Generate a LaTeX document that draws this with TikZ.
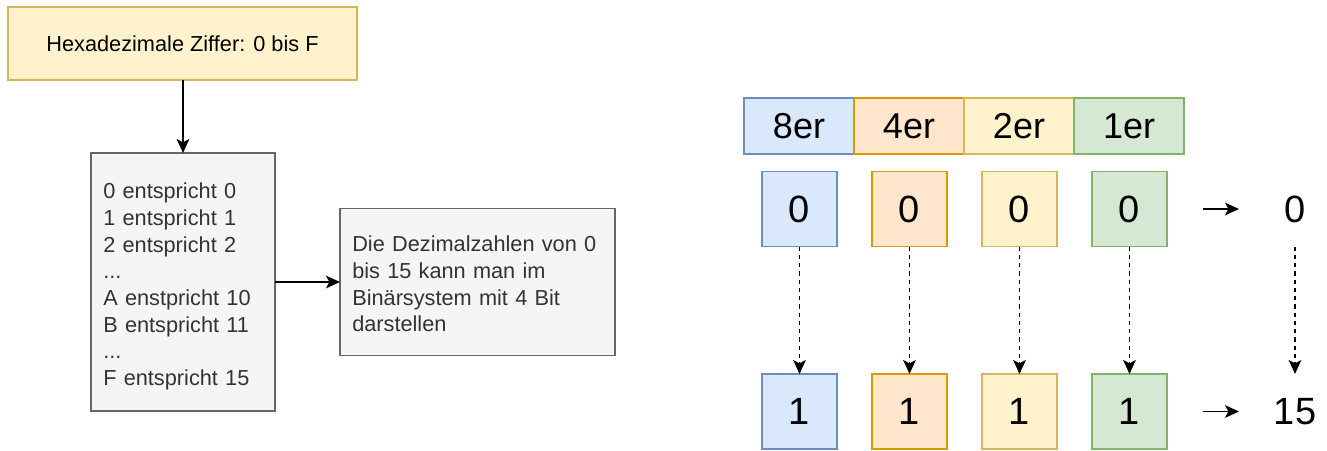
\documentclass[tikz,border=0pt]{standalone}
\usepackage{fontspec}
\setmainfont{Liberation Sans}
\usetikzlibrary{arrows.meta}
\definecolor{blueF}{HTML}{DAE8FC}\definecolor{blueS}{HTML}{6C8EBF}
\definecolor{oranF}{HTML}{FFE6CC}\definecolor{oranS}{HTML}{D79B00}
\definecolor{yellF}{HTML}{FFF2CC}\definecolor{yellS}{HTML}{D6B656}
\definecolor{greeF}{HTML}{D5E8D4}\definecolor{greeS}{HTML}{82B366}
\definecolor{grayF}{HTML}{F5F5F5}\definecolor{grayS}{HTML}{666666}
\definecolor{grayT}{HTML}{333333}
\tikzset{
  box/.style={draw, line width=1.1pt, inner sep=0pt, outer sep=0pt},
  txt/.style={font=\fontsize{16.3}{20}\selectfont},
  graybox/.style={box, fill=grayF, draw=grayS},
  graytxt/.style={text=grayT, txt, align=left, inner sep=0pt, anchor=west},
  hdr/.style={box, minimum width=82.5pt, minimum height=42pt, font=\fontsize{27}{30}\selectfont},
  sq/.style={box, minimum width=56.25pt, minimum height=56.25pt, font=\fontsize{28.5}{32}\selectfont},
  val/.style={inner sep=0pt, outer sep=0pt, minimum width=56.25pt, minimum height=56.25pt, font=\fontsize{28.5}{32}\selectfont},
  bl/.style={fill=blueF, draw=blueS}, or/.style={fill=oranF, draw=oranS},
  ye/.style={fill=yellF, draw=yellS}, gr/.style={fill=greeF, draw=greeS},
  arr/.style={-{Stealth[length=10.5pt,width=9.5pt,inset=2.5pt]}, line width=1.2pt},
  darr/.style={arr, dash pattern=on 3.2pt off 3pt},
}
\begin{document}
\begin{tikzpicture}[x=0.75pt,y=-0.75pt]
\useasboundingbox (0,0) rectangle (1327,450);
% left part
\node[box, fill=yellF, draw=yellS, txt, minimum width=261.75pt, minimum height=54.75pt] (hex) at (182.5,43.5) {Hexadezimale Ziffer: 0 bis F};
\node[graybox, minimum width=138pt, minimum height=193.5pt] (list) at (183,282) {};
\node[graytxt, text width=120pt] (listtxt) at (103,286.5)
  {0 entspricht 0\\1 entspricht 1\\2 entspricht 2\\...\\A enstpricht 10\\B entspricht 11\\...\\F entspricht 15};
\node[graybox, minimum width=206.25pt, minimum height=110.25pt] (desc) at (477.5,282) {};
\node[graytxt, text width=188pt] (desctxt) at (352,284)
  {Die Dezimalzahlen von 0\\bis 15 kann man im\\Binärsystem mit 4 Bit\\darstellen};
\draw[arr] (hex.south -| list.north) -- (list.north);
\draw[arr] (list.east) -- (desc.west);
% header
\node[hdr, bl] (h8) at (799,126) {8er};
\node[hdr, or] (h4) at (909,126) {4er};
\node[hdr, ye] (h2) at (1019,126) {2er};
\node[hdr, gr] (h1) at (1129,126) {1er};
% top row
\node[sq, bl] (t8) at (799.5,209) {0};
\node[sq, or] (t4) at (909.5,209) {0};
\node[sq, ye] (t2) at (1019.5,209) {0};
\node[sq, gr] (t1) at (1129.5,209) {0};
\node[val] (tv) at (1295,209) {0};
% bottom row
\node[sq, bl] (b8) at (799.5,411.5) {1};
\node[sq, or] (b4) at (909.5,411.5) {1};
\node[sq, ye] (b2) at (1019.5,411.5) {1};
\node[sq, gr] (b1) at (1129.5,411.5) {1};
\node[val] (bv) at (1295,411.5) {15};
% dashed arrows
\foreach \n in {8,4,2,1} \draw[darr] (t\n.south) -- (b\n.north);
\draw[darr] (tv.south) -- (bv.north);
% small arrows
\coordinate (ta) at (1203,209); \coordinate (tb) at (1239,209);
\coordinate (ba) at (1203,411.5); \coordinate (bb) at (1239,411.5);
\draw[arr] (ta) -- (tb);
\draw[arr] (ba) -- (bb);
\end{tikzpicture}
\end{document}
